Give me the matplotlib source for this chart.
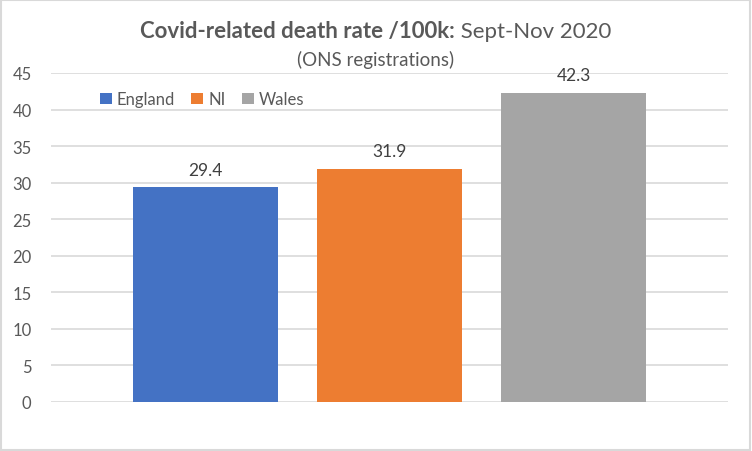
import matplotlib.pyplot as plt
import numpy as np

plt.rcParams['font.family'] = ['Lato', 'DejaVu Sans']

countries = ['England', 'NI', 'Wales']
rates = [29.4, 31.9, 42.3]
colors = ['#4472c4', '#ed7d31', '#a5a5a5']
yticks = [0, 5, 10, 15, 20, 25, 30, 35, 40, 45]

fig = plt.figure(figsize=(7.52, 4.52), dpi=100)
ax = fig.add_axes([51 / 752, 49 / 452, 677 / 752, 329 / 452])

offsets = np.array([-1, 0, 1]) * 0.2718
for off, name, val, c in zip(offsets, countries, rates, colors):
    ax.bar(off, val, width=0.214, color=c, label=name, zorder=3)
    ax.text(off, val + 1.3, f'{val:.1f}', ha='center', va='bottom',
            fontsize=12.5, color='#404040')

ax.set_xlim(-0.5, 0.5)
ax.set_ylim(0, 45)
ax.set_yticks(yticks)
ax.set_xticks([])
ax.grid(axis='y', color='#d9d9d9', linewidth=1.2, zorder=0)
for s in ax.spines.values():
    s.set_visible(False)
ax.tick_params(axis='y', length=0, pad=14, labelsize=12, labelcolor='#595959')

ax.legend(loc='upper left', bbox_to_anchor=(0.05, 0.99), ncol=3, frameon=False,
          handlelength=0.7, handleheight=0.7, handletextpad=0.3, columnspacing=1.0,
          fontsize=12, labelcolor='#595959')

# title in two parts (bold + regular), centred together
t1 = fig.text(0, 0.93, 'Covid-related death rate /100k:', ha='left', va='center',
              fontsize=16, fontweight='bold', color='#595959')
t2 = fig.text(0, 0.93, ' Sept-Nov 2020', ha='left', va='center',
              fontsize=16, color='#595959')
r = fig.canvas.get_renderer()
w1 = t1.get_window_extent(r).width / 752
w2 = t2.get_window_extent(r).width / 752
x0 = 376 / 752 - (w1 + w2) / 2
t1.set_x(x0)
t2.set_x(x0 + w1)
fig.text(376 / 752, 0.867, '(ONS registrations)', ha='center', va='center',
         fontsize=13.5, color='#595959')

fig.patches.append(plt.Rectangle((0.001, 0.002), 0.997, 0.996, transform=fig.transFigure,
                                 fill=False, edgecolor='#d9d9d9', linewidth=1.5))

fig.savefig('out.png', dpi=100)
